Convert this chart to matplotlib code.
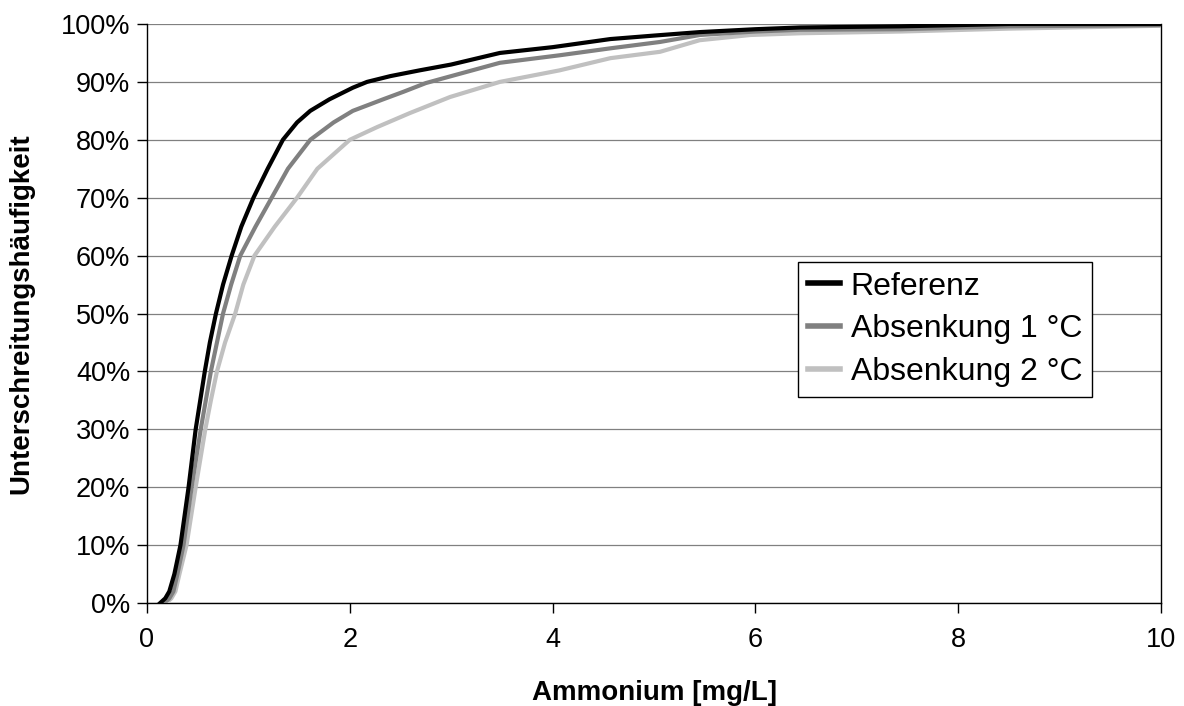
import matplotlib.pyplot as plt
from matplotlib.ticker import PercentFormatter, MultipleLocator

plt.rcParams['font.family'] = ['Liberation Sans', 'DejaVu Sans']

# Unterschreitungshäufigkeit [%] über Ammonium [mg/L]
ref_x = [0.13, 0.18, 0.22, 0.27, 0.33, 0.41, 0.445, 0.48, 0.525, 0.57, 0.62, 0.68,
         0.75, 0.835, 0.93, 1.05, 1.19, 1.34, 1.48, 1.61, 1.80, 2.03, 2.17, 2.40,
         2.69, 3.00, 3.48, 4.00, 4.57, 5.00, 5.45, 6.00, 6.44, 7.43, 8.50, 10.0]
ref_y = [0.0, 0.8, 2.0, 5.0, 10.0, 20.0, 25.0, 30.0, 35.0, 40.0, 45.0, 50.0,
         55.0, 60.0, 65.0, 70.0, 75.0, 80.0, 83.0, 85.0, 87.0, 89.0, 90.0, 91.0,
         92.0, 93.0, 95.0, 96.0, 97.4, 98.0, 98.6, 99.1, 99.4, 99.6, 100.0, 100.0]

abs1_x = [0.17, 0.22, 0.26, 0.30, 0.36, 0.44, 0.53, 0.58, 0.63, 0.69, 0.75, 0.83,
          0.92, 1.07, 1.23, 1.39, 1.61, 1.84, 2.03, 2.33, 2.53, 2.75, 3.00, 3.48,
          4.07, 4.57, 5.06, 5.45, 6.00, 6.44, 7.43, 8.50, 10.0]
abs1_y = [0.0, 0.8, 2.0, 5.0, 10.0, 20.0, 30.0, 35.0, 40.0, 45.0, 50.0, 55.0,
          60.0, 65.0, 70.0, 75.0, 80.0, 83.0, 85.0, 87.0, 88.3, 89.8, 91.0, 93.3,
          94.6, 95.8, 96.9, 98.1, 98.7, 99.0, 99.1, 99.6, 99.8]

abs2_x = [0.19, 0.24, 0.28, 0.32, 0.39, 0.48, 0.575, 0.63, 0.69, 0.77, 0.87, 0.95,
          1.06, 1.26, 1.48, 1.68, 2.00, 2.27, 2.59, 2.99, 3.48, 4.07, 4.57, 5.06,
          5.45, 5.95, 6.44, 7.43, 8.50, 10.0]
abs2_y = [0.0, 0.8, 2.0, 5.0, 10.0, 20.0, 30.0, 35.0, 40.0, 45.0, 50.0, 55.0,
          60.0, 65.0, 70.0, 75.0, 80.0, 82.2, 84.6, 87.4, 90.0, 92.0, 94.1, 95.2,
          97.2, 98.1, 98.4, 98.7, 99.2, 99.7]

x_ticks = [0, 2, 4, 6, 8, 10]

fig = plt.figure(figsize=(11.84, 7.06), dpi=100)
ax = fig.add_axes([147 / 1184, 1 - 603 / 706, (1161 - 147) / 1184, (603 - 24) / 706])

ax.plot(ref_x, ref_y, color='black', lw=3.0, label='Referenz', zorder=5)
ax.plot(abs1_x, abs1_y, color='#808080', lw=3.0, label='Absenkung 1 °C', zorder=4)
ax.plot(abs2_x, abs2_y, color='#c0c0c0', lw=3.0, label='Absenkung 2 °C', zorder=3)

ax.set_xlim(0, 10)
ax.set_ylim(0, 100)
ax.set_xticks(x_ticks)
ax.yaxis.set_major_locator(MultipleLocator(10))
ax.yaxis.set_major_formatter(PercentFormatter(decimals=0))
ax.grid(axis='y', color='#808080', lw=0.9)
ax.set_axisbelow(True)

for side in ('left', 'bottom', 'right'):
    ax.spines[side].set_color('black')
    ax.spines[side].set_linewidth(1.0)
ax.spines['top'].set_visible(False)
ax.tick_params(direction='out', length=7, width=1.0, labelsize=19.5, pad=5, colors='black')
ax.tick_params(axis='x', pad=10)

ax.set_xlabel('Ammonium [mg/L]', fontsize=20, fontweight='bold', labelpad=20)
ax.set_ylabel('Unterschreitungshäufigkeit', fontsize=20, fontweight='bold', labelpad=19)

leg = ax.legend(loc='upper left', bbox_to_anchor=((798 - 147) / 1014, (603 - 262) / 579),
                fontsize=23, frameon=True, fancybox=False, handlelength=1.0,
                handletextpad=0.35, borderpad=0.3, labelspacing=0.4, borderaxespad=0)
leg.get_frame().set_edgecolor('black')
leg.get_frame().set_linewidth(1.0)
leg.get_frame().set_alpha(1)
for line in leg.get_lines():
    line.set_linewidth(4.0)

fig.savefig('out.png', dpi=100)
